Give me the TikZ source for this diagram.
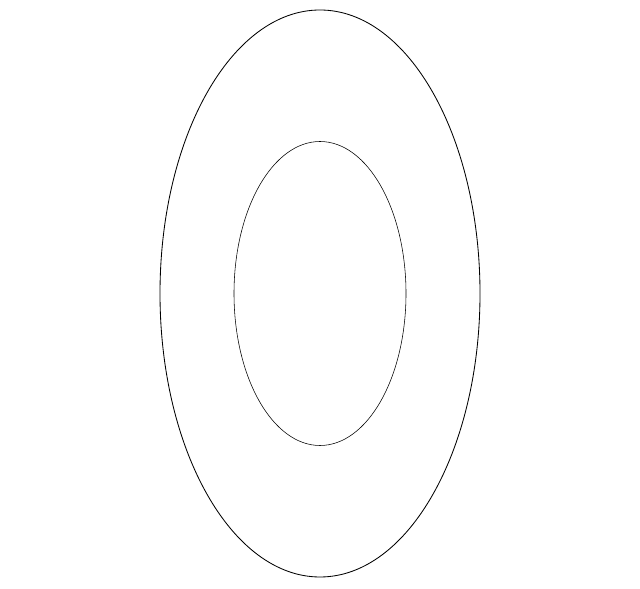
\documentclass[tikz,border=0pt]{standalone}
\usetikzlibrary{positioning}

\tikzset{
outerring/.style={draw, line width=0.6pt},
innerring/.style={draw, line width=0.4pt}
}

\begin{document}
\begin{tikzpicture}
\useasboundingbox (0,0) rectangle (16,14.7);
% 中心
\coordinate (centre) at (8,7.3625);

% 外椭圆
\path[outerring] (centre) ellipse [x radius=4.0cm, y radius=7.0875cm];

% 内椭圆
\path[innerring] (centre) ellipse [x radius=2.15cm, y radius=3.8cm];
\end{tikzpicture}
\end{document}
